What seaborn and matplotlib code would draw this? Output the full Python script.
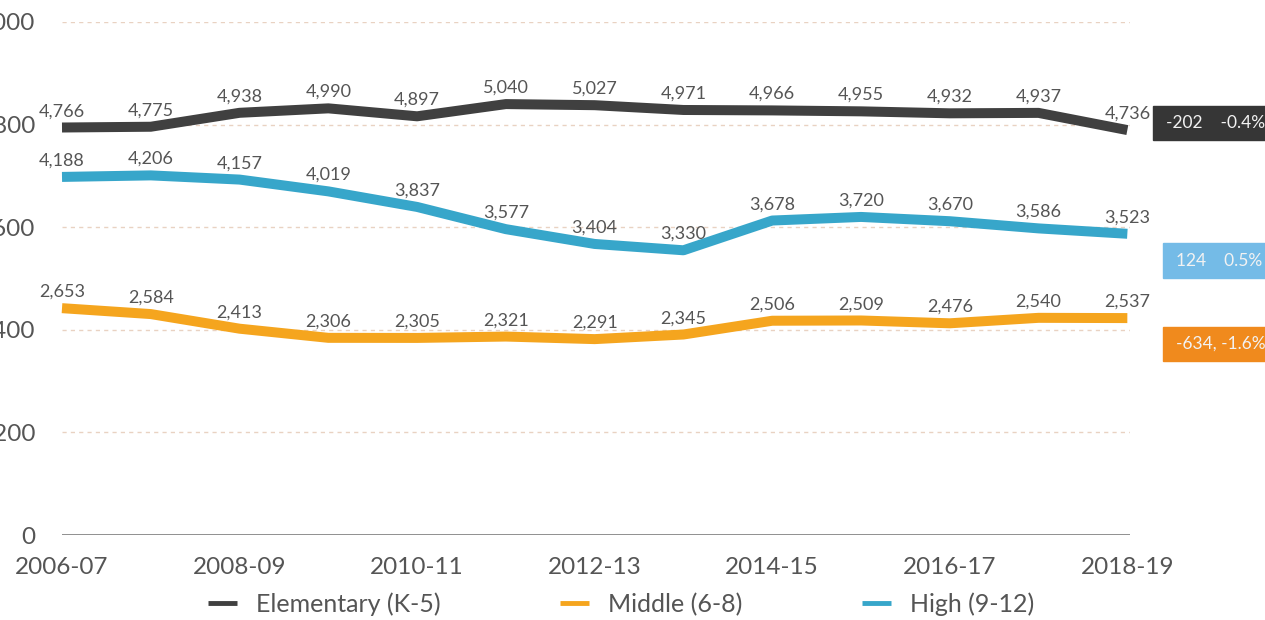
import pandas as pd
import seaborn as sns
import matplotlib.pyplot as plt
from matplotlib.patches import Rectangle

sns.set_style("white")
plt.rcParams["font.family"] = ["Lato", "DejaVu Sans"]

years = ["2006-07", "2007-08", "2008-09", "2009-10", "2010-11", "2011-12", "2012-13",
         "2013-14", "2014-15", "2015-16", "2016-17", "2017-18", "2018-19"]
elementary = [4766, 4775, 4938, 4990, 4897, 5040, 5027, 4971, 4966, 4955, 4932, 4937, 4736]
middle = [2653, 2584, 2413, 2306, 2305, 2321, 2291, 2345, 2506, 2509, 2476, 2540, 2537]
high = [4188, 4206, 4157, 4019, 3837, 3577, 3404, 3330, 3678, 3720, 3670, 3586, 3523]
series_names = ["Elementary (K-5)", "Middle (6-8)", "High (9-12)"]
change_labels = ["-202    -0.4%", "124    0.5%", "-634, -1.6%"]
yticks = [0, 1200, 2400, 3600, 4800, 6000]

colors = {"Elementary (K-5)": "#404040", "Middle (6-8)": "#f5a51e", "High (9-12)": "#37a6ca"}
box_colors = ["#363636", "#74bbe7", "#f08a1d"]

W, H = 1265, 620


def fx(x):
    return x / W


def fy(y):
    return 1 - y / H


rows = []
for name, vals in zip(series_names, [elementary, middle, high]):
    for i, v in enumerate(vals):
        rows.append({"idx": i, "year": years[i], "value": v, "level": name})
df = pd.DataFrame(rows)

fig = plt.figure(figsize=(12.65, 6.2), dpi=100)
ax = fig.add_axes([fx(62), fy(535), fx(1130) - fx(62), fy(22) - fy(535)])

sns.lineplot(data=df, x="idx", y="value", hue="level", palette=colors,
             linewidth=7.2, ax=ax, legend=True)
for line in ax.lines:
    line.set_solid_capstyle("butt")
    line.set_solid_joinstyle("round")
    line.set_clip_on(False)

# value labels
for vals in [elementary, middle, high]:
    for i, v in enumerate(vals):
        ax.annotate(f"{v:,}", (i, v), xytext=(0, 6), textcoords="offset points",
                    ha="center", va="bottom", fontsize=13, color="#555555")

ax.set_xlim(0, 12.03)
ax.set_ylim(0, 6000)
ax.set_yticks(yticks)
ax.set_yticklabels([str(t) for t in yticks])
ax.set_xticks(range(0, len(years), 2))
ax.set_xticklabels(years[::2])
ax.tick_params(axis="y", length=0, pad=19, labelsize=17.5, labelcolor="#555555")
ax.tick_params(axis="x", length=0, pad=16, labelsize=17.5, labelcolor="#555555")
ax.set_xlabel("")
ax.set_ylabel("")
for s in ax.spines.values():
    s.set_visible(False)

ax.grid(False)
for t in yticks[1:]:
    ax.axhline(t, color="#e9d2c2", lw=1, ls=(0, (3, 3)), zorder=0)
ax.axhline(0, color="#8f8f8f", lw=1.4, zorder=1)

# legend below
handles, labels = ax.get_legend_handles_labels()
ax.get_legend().remove()
leg = fig.legend(handles, labels, loc="center", bbox_to_anchor=(fx(621), fy(604)),
                 ncol=3, frameon=False, fontsize=18, handlelength=1.15,
                 handletextpad=0.75, columnspacing=4.8, labelcolor="#555555")
for h in leg.legend_handles:
    h.set_linewidth(3.5)

# change boxes on the right
boxes = [(1153, 106, 140), (1163, 243, 278), (1163, 327, 361)]
for (x0, y0, y1), c, txt in zip(boxes, box_colors, change_labels):
    fig.patches.append(Rectangle((fx(x0), fy(y1)), fx(W) - fx(x0), fy(y0) - fy(y1),
                                 transform=fig.transFigure, color=c, zorder=0))
    fig.text(fx(x0 + 13), fy((y0 + y1) / 2), txt, ha="left", va="center",
             fontsize=12.5, color="#f2f2f2")

fig.savefig("out.png", dpi=100)
